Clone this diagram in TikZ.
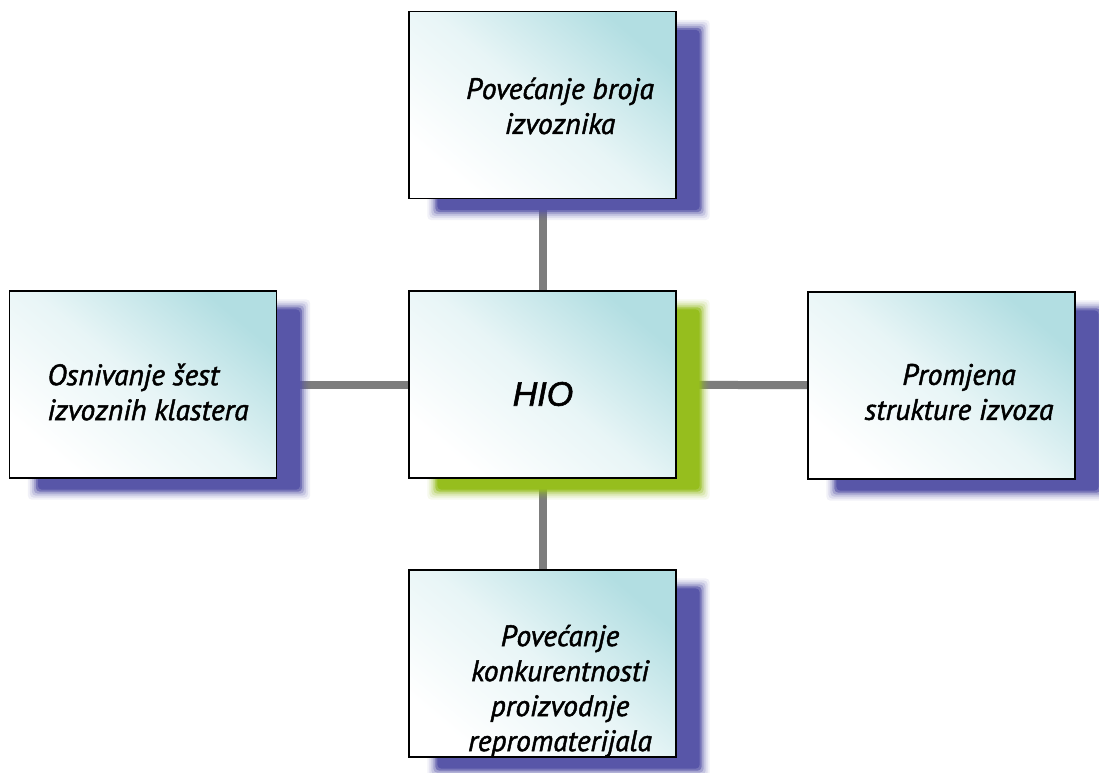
\documentclass[tikz,border=0pt]{standalone}
\usepackage{fontspec}
\setmainfont{PT Sans}[ItalicFeatures={FakeBold=1.6}]
\newfontfamily\hiofont{Liberation Sans}[ItalicFeatures={FakeBold=1.8}]
\usetikzlibrary{calc}
\pgfdeclarelayer{bg}
\pgfdeclarelayer{lines}
\pgfdeclarelayer{shadows}
\pgfsetlayers{bg,lines,shadows,main}
\definecolor{boxtop}{RGB}{178,222,226}
\definecolor{blueshadow}{RGB}{88,86,168}
\definecolor{greenshadow}{RGB}{150,190,30}
\definecolor{linkgray}{RGB}{125,125,125}
\tikzset{
  box/.style={draw=black, line width=1.3pt, minimum width=267pt, minimum height=187pt,
    inner sep=0pt, top color=boxtop, bottom color=white, middle color=boxtop!30!white, shading angle=-40},
  txt/.style={font=\fontsize{29.5}{35}\selectfont\itshape, align=center, inner sep=0pt},
  link/.style={draw=linkgray, line width=8pt}
}
\newcommand{\boxshadow}[2]{%
  \begin{pgfonlayer}{shadows}
  \foreach \e/\o in {8/0.08,6/0.12,4/0.18,2/0.3,0/0.6,-2/1}{
    \fill[#2, opacity=\o, rounded corners=4pt]
      ($(#1.north west)+(27-\e,17-\e)$) rectangle ($(#1.south east)+(25+\e,13+\e)$);
  }
  \end{pgfonlayer}}
\begin{document}
\begin{tikzpicture}[x=1pt,y=-1pt]
\begin{pgfonlayer}{bg}
\fill[white] (0,0) rectangle (1099,772);
\end{pgfonlayer}
\useasboundingbox (0,0) rectangle (1099,772);
\node[box] (top) at (542.5,105) {};
\node[box] (hio) at (542.5,384.5) {};
\node[box] (left) at (143,384.5) {};
\node[box] (right) at (941.5,385.5) {};
\node[box] (bot) at (542.5,663.5) {};
\boxshadow{top}{blueshadow}
\boxshadow{hio}{greenshadow}
\boxshadow{left}{blueshadow}
\boxshadow{right}{blueshadow}
\boxshadow{bot}{blueshadow}
\begin{pgfonlayer}{lines}
\draw[link] (top) -- (hio);
\draw[link] (hio) -- (bot);
\draw[link] (left) -- (hio);
\draw[link] (hio) -- (right);
\end{pgfonlayer}
\node[txt] (ttop) at (560,106) {Povećanje broja\\izvoznika};
\node[txt, align=left] (tleft) at (148,392) {Osnivanje šest\\izvoznih klastera};
\node[txt] (tright) at (959,392) {Promjena\\strukture izvoza};
\node[txt] (tbot) at (560,691) {Povećanje\\konkurentnosti\\proizvodnje\\repromaterijala};
\node[font=\fontsize{34}{40}\selectfont\hiofont\itshape, inner sep=0pt] (thio) at (543,394) {HIO};
\end{tikzpicture}
\end{document}
